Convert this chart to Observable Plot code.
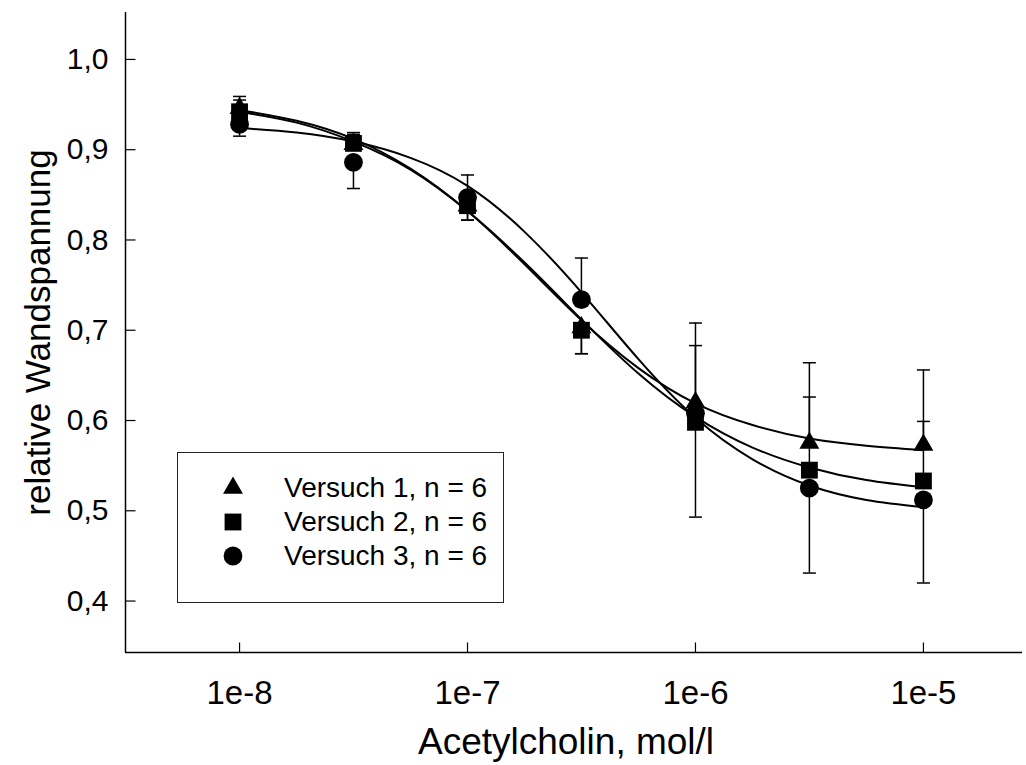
<!DOCTYPE html>
<html>
<head>
<meta charset="utf-8">
<script src="https://cdn.jsdelivr.net/npm/d3@7"></script>
<script src="https://cdn.jsdelivr.net/npm/@observablehq/plot@0.6"></script>
<style>
  html, body { margin: 0; padding: 0; background: #fff; }
  #wrap { position: relative; width: 1026px; height: 765px; }
  #legend { position: absolute; left: 177px; top: 452px; width: 325px; height: 149px;
            border: 1px solid #222; background: #fff;
            font-family: "Liberation Sans", Arial, sans-serif; font-size: 28px; color: #000; }
  .row { position: absolute; left: 0; width: 100%; height: 34px; }
  .row svg { position: absolute; left: 40px; top: -3px; }
  .row span { position: absolute; left: 106px; top: 0; line-height: 34px; white-space: nowrap; }
</style>
</head>
<body>
<div id="wrap"></div>
<script>
// ---- data ----
const conc = [1e-8, 3.16e-8, 1e-7, 3.16e-7, 1e-6, 3.16e-6, 1e-5];
const seriesNames = ["Versuch 1, n = 6", "Versuch 2, n = 6", "Versuch 3, n = 6"];
const seriesSymbols = ["triangle", "square", "circle"];
// mean values
const v1 = [0.946, 0.906, 0.838, 0.703, 0.620, 0.575, 0.573];
const v2 = [0.942, 0.907, 0.838, 0.700, 0.598, 0.545, 0.533];
const v3 = [0.928, 0.886, 0.847, 0.734, 0.608, 0.525, 0.512];
// error bar end values (one-sided bars)
const e1 = [0.959, 0.919, 0.822, 0.674, 0.708, 0.664, 0.656];
const e2 = [0.955, 0.917, 0.822, 0.674, 0.683, 0.626, 0.599];
const e3 = [0.915, 0.857, 0.872, 0.780, 0.493, 0.431, 0.420];
// fitted curves
const fitConc = [1e-8, 1.78e-8, 3.16e-8, 5.62e-8, 1e-7, 1.78e-7, 3.16e-7, 5.62e-7, 1e-6, 1.78e-6, 3.16e-6, 5.62e-6, 1e-5];
const fit1 = [0.944, 0.932, 0.912, 0.879, 0.832, 0.773, 0.711, 0.658, 0.619, 0.595, 0.580, 0.572, 0.567];
const fit2 = [0.942, 0.930, 0.909, 0.878, 0.832, 0.775, 0.712, 0.652, 0.604, 0.570, 0.548, 0.534, 0.526];
const fit3 = [0.924, 0.919, 0.909, 0.891, 0.860, 0.809, 0.742, 0.668, 0.603, 0.557, 0.528, 0.512, 0.504];
// axes
const xDomain = [3.16e-9, 2.72e-5];
const yDomain = [0.343, 1.052];
const xTickValues = [1e-8, 1e-7, 1e-6, 1e-5];
const xTickLabels = ["1e-8", "1e-7", "1e-6", "1e-5"];
const yTickValues = [0.4, 0.5, 0.6, 0.7, 0.8, 0.9, 1.0];
const yTickLabels = ["0,4", "0,5", "0,6", "0,7", "0,8", "0,9", "1,0"];
const xTitle = "Acetylcholin, mol/l";
const yTitle = "relative Wandspannung";

// ---- tables ----
const means = [v1, v2, v3];
const ends = [e1, e2, e3];
const fits = [fit1, fit2, fit3];
const points = means.flatMap((v, s) => conc.map((c, i) => ({s, x: c, y: v[i], e: ends[s][i]})));
const curves = fits.flatMap((f, s) => fitConc.map((c, i) => ({s, x: c, y: f[i]})));

// custom marker shapes
const capSym = {draw(ctx) { ctx.moveTo(-6.5, 0); ctx.lineTo(6.5, 0); }};
const tickRight = {draw(ctx) { ctx.moveTo(0, 0); ctx.lineTo(10, 0); }};
const tickUp = {draw(ctx) { ctx.moveTo(0, 0); ctx.lineTo(0, -10); }};
const symR = {triangle: 7.4, square: 9.5, circle: 9.4};

const sans = "'Liberation Sans', Arial, sans-serif";

const plot = Plot.plot({
  width: 1026,
  height: 765,
  marginLeft: 125,
  marginRight: 4,
  marginTop: 12,
  marginBottom: 113,
  style: {fontFamily: sans, background: "white", color: "black"},
  x: {type: "log", domain: xDomain},
  y: {domain: yDomain},
  marks: [
    Plot.axisY({ticks: yTickValues, tickFormat: d => yTickLabels[yTickValues.indexOf(d)], tickSize: 0, tickPadding: 17, fontSize: 30, label: null}),
    Plot.axisX({ticks: xTickValues, tickFormat: d => xTickLabels[xTickValues.indexOf(d)], tickSize: 0, tickPadding: 28, fontSize: 33, label: null}),
    Plot.dot(yTickValues, {y: d => d, frameAnchor: "left", symbol: tickRight, stroke: "black", fill: "none", strokeWidth: 1.2}),
    Plot.dot(xTickValues, {x: d => d, frameAnchor: "bottom", symbol: tickUp, stroke: "black", fill: "none", strokeWidth: 1.2}),
    Plot.ruleX([xDomain[0]], {stroke: "black", strokeWidth: 1.5}),
    Plot.ruleY([yDomain[0]], {stroke: "black", strokeWidth: 1.5}),
    Plot.text([yTitle], {text: d => d, frameAnchor: "left", textAnchor: "middle", rotate: -90, dx: -87, fontSize: 35}),
    Plot.text([xTitle], {text: d => d, frameAnchor: "bottom", dy: 101, dx: -8, fontSize: 37}),
    Plot.line(curves, {x: "x", y: "y", z: "s", curve: "natural", stroke: "black", strokeWidth: 2}),
    Plot.ruleX(points, {x: "x", y1: "y", y2: "e", stroke: "black", strokeWidth: 1.5}),
    Plot.dot(points, {x: "x", y: "e", symbol: capSym, stroke: "black", fill: "none", strokeWidth: 1.5}),
    ...seriesSymbols.map((sym, s) =>
      Plot.dot(points.filter(d => d.s === s), {x: "x", y: "y", symbol: sym, r: symR[sym], fill: "black", stroke: "none"})
    )
  ]
});

const wrap = document.getElementById("wrap");
wrap.appendChild(plot);

// legend
const legend = document.createElement("div");
legend.id = "legend";
const symMap = {triangle: d3.symbolTriangle, square: d3.symbolSquare, circle: d3.symbolCircle};
seriesNames.forEach((name, s) => {
  const row = document.createElement("div");
  row.className = "row";
  row.style.top = (18 + s * 34) + "px";
  const sym = seriesSymbols[s];
  const r = symR[sym];
  const path = d3.symbol(symMap[sym], Math.PI * r * r)();
  row.innerHTML = `<svg width="30" height="40" viewBox="-15 -20 30 40"><path d="${path}" fill="black"/></svg><span>${name}</span>`;
  legend.appendChild(row);
});
wrap.appendChild(legend);
</script>
</body>
</html>
